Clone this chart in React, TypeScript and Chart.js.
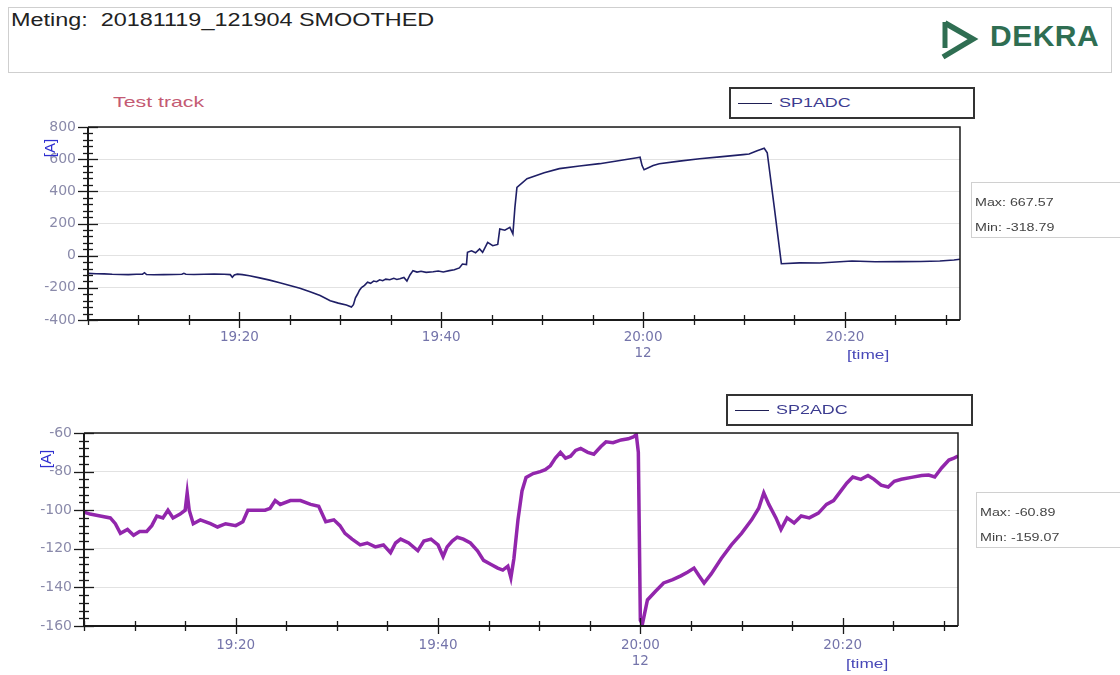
import React, { useEffect, useRef } from "react";
import { Chart, registerables } from "chart.js";

Chart.register(...registerables);

// ---- data (time in minutes after 19:00) ----
const xTickValues = [80, 100, 120, 140];
const xTickLabels = ["19:20", "19:40", "20:00", "20:20"];
const xSubLabel = "12";

const sp1Times = [
  65.0, 65.8, 66.6, 67.4, 68.2, 69.0, 69.8, 70.4, 70.6, 70.8, 71.5, 72.5, 73.5, 74.3, 74.5, 74.7, 75.5, 76.5,
  77.5, 78.5, 79.1, 79.3, 79.5, 79.8, 80.3, 81.0, 82.0, 83.0, 84.0, 85.0, 86.0, 87.0, 88.0, 89.0, 89.8, 90.6,
  91.1, 91.3, 91.5, 91.7, 91.9, 92.1, 92.4, 92.7, 93.0, 93.3, 93.6, 93.9, 94.2, 94.5, 94.9, 95.3, 95.6, 95.9,
  96.3, 96.6, 96.9, 97.2, 97.6, 98.0, 98.5, 99.2, 99.7, 100.2, 100.8, 101.3, 101.8, 102.1, 102.5, 102.6, 103.0,
  103.4, 103.8, 104.1, 104.6, 105.1, 105.6, 105.8, 106.3, 106.8, 107.1, 107.3, 107.5, 108.5, 110.2, 111.7,
  113.7, 115.7, 117.7, 119.4, 119.7, 119.9, 120.1, 121.0, 121.6, 123.6, 125.6, 127.6, 129.9, 130.5, 131.3,
  132.0, 132.3, 133.0, 133.7, 135.5, 137.5, 140.7, 143.0, 145.4, 147.5, 149.4, 150.8, 151.4,
];
const sp1Values = [
  -110, -112, -113, -116, -117, -118, -116, -115, -106, -117, -119, -118, -117, -116, -110, -116, -117, -116,
  -115, -116, -118, -134, -120, -115, -118, -125, -138, -152, -168, -185, -203, -225, -248, -280, -295, -307,
  -318.79, -305, -262, -240, -215, -198, -185, -165, -172, -158, -162, -150, -156, -146, -150, -141, -148, -143,
  -135, -158, -120, -93, -102, -97, -104, -100, -95, -101, -93, -88, -76, -52, -55, 21, 30, 18, 42, 21, 83, 62,
  70, 166, 158, 176, 135, 300, 425, 479, 515, 541, 558, 572, 592, 609, 612, 560, 534, 560, 572, 588, 603, 614,
  628, 632, 652, 667.57, 640, 300, -50, -45, -46, -33, -38, -37, -36, -33, -27, -22,
];

const sp2Times = [
  65.0, 65.6, 66.6, 67.6, 68.1, 68.6, 69.3, 69.9, 70.5, 71.2, 71.7, 72.2, 72.8, 73.3, 73.8, 74.5, 75.0, 75.2,
  75.4, 75.8, 76.5, 77.5, 78.2, 79.0, 80.0, 80.7, 81.2, 81.9, 82.9, 83.4, 83.9, 84.4, 85.4, 86.4, 87.4, 88.2,
  88.9, 89.7, 90.3, 90.8, 91.5, 92.3, 93.0, 93.8, 94.6, 95.3, 95.8, 96.3, 97.1, 98.0, 98.6, 99.3, 100.0, 100.5,
  100.9, 101.4, 101.9, 102.5, 103.2, 103.9, 104.5, 105.2, 105.9, 106.4, 106.9, 107.2, 107.5, 107.9, 108.3,
  108.7, 109.4, 110.1, 110.6, 111.1, 111.6, 112.1, 112.6, 113.1, 113.6, 114.1, 114.8, 115.4, 116.1, 116.6,
  117.3, 118.1, 118.8, 119.3, 119.6, 119.8, 120.0, 120.2, 120.7, 121.5, 122.3, 123.2, 124.0, 124.7, 125.3,
  125.8, 126.3, 127.0, 128.0, 129.0, 130.0, 131.0, 131.7, 132.2, 132.7, 133.4, 133.9, 134.5, 135.2, 135.9,
  136.7, 137.6, 138.4, 139.1, 139.9, 140.4, 141.0, 141.8, 142.5, 143.1, 143.8, 144.5, 145.1, 145.8, 146.8,
  147.8, 148.5, 149.1, 149.8, 150.5, 151.0, 151.4,
];
const sp2Values = [
  -101, -102, -103, -104, -107, -112, -110, -113, -111, -111, -108, -103, -104, -100, -104, -102, -100, -91,
  -100, -107, -105, -107, -108.7, -107, -108, -106, -100, -100, -100, -99, -95, -97, -95, -95, -97, -98,
  -106, -105, -108, -112, -115, -118, -117, -119, -118, -122, -117, -115, -117, -121, -116, -115, -118, -124,
  -119, -116, -114, -115, -117, -121, -126, -128, -130, -131, -129, -135, -125, -105, -90,
  -83, -81, -80, -79, -77, -73, -70, -73, -72, -69, -68, -70, -71, -67, -64.6,
  -65, -63.6, -63, -62, -60.89, -70, -157, -159.07, -146.5, -142, -137.7, -136, -134, -132, -130,
  -134, -137.7, -133, -125, -118, -112, -105, -99, -91, -97, -104, -110, -104, -106.6, -103,
  -104, -101.5, -97, -95, -89.5, -86, -82.8, -84, -82, -84, -87, -88, -85, -84, -83,
  -82, -81.8, -82.8, -78, -74, -73, -72,
];

const FONT = "'Liberation Sans', Arial, Helvetica, sans-serif";
const WIDE = "'DejaVu Sans', 'Liberation Sans', sans-serif";

type Cfg = {
  top: number;
  height: number;
  padTop: number;
  padRight: number;
  yWidth: number;
  xHeight: number;
  xPad: number;
  yMin: number;
  yMax: number;
  yStep: number;
  yMinorDiv: number;
  datasets: any[];
};

function framePlugin(cfg: Cfg) {
  return {
    id: "frameTicks",
    afterDatasetsDraw(chart: any) {
      const { ctx, chartArea: a, scales } = chart;
      const xs = scales.x;
      const ys = scales.y;
      ctx.save();
      ctx.strokeStyle = "#1a1a1a";
      ctx.lineWidth = 1.5;
      ctx.beginPath();
      ctx.moveTo(a.left, a.top);
      ctx.lineTo(a.right, a.top);
      ctx.lineTo(a.right, a.bottom);
      ctx.stroke();
      ctx.lineWidth = 2;
      ctx.beginPath();
      ctx.moveTo(a.left, a.top);
      ctx.lineTo(a.left, a.bottom);
      ctx.lineTo(a.right, a.bottom);
      ctx.stroke();
      ctx.lineWidth = 1.3;
      const minor = cfg.yStep / cfg.yMinorDiv;
      const n = Math.round((cfg.yMax - cfg.yMin) / minor);
      for (let i = 0; i <= n; i++) {
        const v = cfg.yMin + i * minor;
        const y = Math.round(ys.getPixelForValue(v)) + 0.5;
        const len = i % cfg.yMinorDiv === 0 ? 10 : 5;
        ctx.beginPath();
        ctx.moveTo(a.left - len, y);
        ctx.lineTo(a.left + len, y);
        ctx.stroke();
      }
      for (let t = 65; t <= xs.max; t += 5) {
        const x = Math.round(xs.getPixelForValue(t)) + 0.5;
        const len = t % 20 === 0 ? 8 : 5;
        ctx.beginPath();
        ctx.moveTo(x, a.bottom - len);
        ctx.lineTo(x, a.bottom + len);
        ctx.stroke();
      }
      ctx.restore();
    },
  };
}

function TimeChart({ cfg }: { cfg: Cfg }) {
  const ref = useRef<HTMLCanvasElement>(null);
  useEffect(() => {
    const chart = new Chart(ref.current as HTMLCanvasElement, {
      type: "line",
      data: { datasets: cfg.datasets },
      plugins: [framePlugin(cfg)],
      options: {
        animation: false,
        responsive: false,
        devicePixelRatio: 1,
        layout: { padding: { left: 0, right: cfg.padRight, top: cfg.padTop, bottom: 0 } },
        plugins: { legend: { display: false }, tooltip: { enabled: false } },
        elements: { point: { radius: 0 }, line: { tension: 0 } },
        scales: {
          x: {
            type: "linear",
            min: 65,
            max: 151.4,
            afterFit: (s: any) => {
              s.height = cfg.xHeight;
            },
            afterBuildTicks: (s: any) => {
              s.ticks = xTickValues.map((v) => ({ value: v }));
            },
            grid: { display: false, drawTicks: false },
            border: { display: false },
            ticks: {
              autoSkip: false,
              maxRotation: 0,
              padding: cfg.xPad,
              color: "#7474aa",
              font: { family: WIDE, size: 13.5, lineHeight: 1.2 },
              callback: (v: any) => {
                const i = xTickValues.indexOf(Number(v));
                if (i < 0) return "";
                return xTickValues[i] === 120 ? [xTickLabels[i], xSubLabel] : xTickLabels[i];
              },
            },
          },
          y: {
            min: cfg.yMin,
            max: cfg.yMax,
            afterFit: (s: any) => {
              s.width = cfg.yWidth;
            },
            grid: { color: "#e2e2e2", drawTicks: false, lineWidth: 1 },
            border: { display: false },
            ticks: {
              stepSize: cfg.yStep,
              padding: 12,
              color: "#8a8aaa",
              font: { family: WIDE, size: 14 },
            },
          },
        },
      },
    } as any);
    return () => chart.destroy();
  }, []);
  return (
    <canvas
      ref={ref}
      width={1000}
      height={cfg.height}
      style={{ position: "absolute", left: 0, top: cfg.top, width: 1000, height: cfg.height }}
    />
  );
}

const toPts = (ts: number[], vs: number[]) => ts.map((t, i) => ({ x: t, y: vs[i] }));

const topCfg: Cfg = {
  top: 80,
  height: 300,
  padTop: 47,
  padRight: 40,
  yWidth: 88,
  xHeight: 60,
  xPad: 9,
  yMin: -400,
  yMax: 800,
  yStep: 200,
  yMinorDiv: 5,
  datasets: [
    {
      label: "SP1ADC",
      data: toPts(sp1Times, sp1Values),
      borderColor: "#1f1f66",
      borderWidth: 1.6,
      pointRadius: 0,
    },
  ],
};

const botCfg: Cfg = {
  top: 390,
  height: 285,
  padTop: 43,
  padRight: 42,
  yWidth: 84,
  xHeight: 49,
  xPad: 11,
  yMin: -160,
  yMax: -60,
  yStep: 20,
  yMinorDiv: 5,
  datasets: [
    {
      label: "SP2ADC",
      data: toPts(sp2Times, sp2Values),
      borderColor: "#9226ac",
      borderWidth: 3.5,
      pointRadius: 0,
    },
    {
      label: "SP2ADC line",
      data: toPts(sp2Times, sp2Values),
      borderColor: "#2a2238",
      borderWidth: 1,
      pointRadius: 0,
    },
  ],
};

const abs = (l: number, t: number, extra: any = {}) => ({ position: "absolute" as const, left: l, top: t, ...extra });
const stretch = (k: number) => ({ transform: `scaleX(${k})`, transformOrigin: "left top", whiteSpace: "pre" });

function Legend({ l, t, w, h, label }: { l: number; t: number; w: number; h: number; label: string }) {
  return (
    <div style={abs(l, t, { width: w, height: h, border: "2px solid #333", boxSizing: "border-box" })}>
      <div style={abs(7, h / 2 - 2, { width: 34, height: 0, borderTop: "1px solid #1f1f55" })} />
      <div
        style={abs(48, h / 2 - 11, {
          fontFamily: FONT,
          fontSize: 13,
          color: "#3c3c90",
          lineHeight: "18px",
          ...stretch(1.38),
        })}
      >
        {label}
      </div>
    </div>
  );
}

function MinMax({ l, t, max, min }: { l: number; t: number; max: string; min: string }) {
  return (
    <div
      style={abs(l, t, {
        width: 160,
        height: 56,
        border: "1px solid #d0d0d0",
        boxSizing: "border-box",
        fontFamily: FONT,
        fontSize: 10.5,
        color: "#444",
      })}
    >
      <div style={abs(3, 13, stretch(1.36))}>{max}</div>
      <div style={abs(3, 38, stretch(1.36))}>{min}</div>
    </div>
  );
}

function AxisUnit({ l, t }: { l: number; t: number }) {
  return (
    <div
      style={abs(l, t, {
        fontFamily: FONT,
        fontSize: 15,
        color: "#3030d0",
        transform: "rotate(-90deg)",
        transformOrigin: "center",
        width: 26,
        textAlign: "center",
        lineHeight: "16px",
      })}
    >
      [A]
    </div>
  );
}

export default function App() {
  return (
    <div style={abs(0, 0, { width: 1120, height: 675, background: "#fff", overflow: "hidden" })}>
      {/* header */}
      <div style={abs(8, 7, { width: 1104, height: 66, border: "1px solid #cfcfcf", boxSizing: "border-box" })} />
      <div style={abs(11, 10, { fontFamily: FONT, fontSize: 18, color: "#222", ...stretch(1.3) })}>
        {"Meting:  20181119_121904 SMOOTHED"}
      </div>
      <svg style={abs(936, 18, {})} width={44} height={42}>
        <polyline points="9,5 37,21 7,39" fill="none" stroke="#2f6e52" strokeWidth={5.5} strokeLinejoin="miter" />
        <line x1={9} y1={4} x2={9} y2={30} stroke="#2f6e52" strokeWidth={5} />
      </svg>
      <div
        style={abs(990, 18, {
          fontFamily: FONT,
          fontSize: 30,
          fontWeight: "bold",
          color: "#2f6e52",
          letterSpacing: 0.5,
          lineHeight: "36px",
        })}
      >
        DEKRA
      </div>

      {/* top chart */}
      <div style={abs(113, 93, { fontFamily: FONT, fontSize: 15, color: "#c45a72", ...stretch(1.42) })}>
        Test track
      </div>
      <Legend l={729} t={87} w={246} h={32} label="SP1ADC" />
      <TimeChart cfg={topCfg} />
      <AxisUnit l={37} t={140} />
      <div style={abs(847, 347, { fontFamily: FONT, fontSize: 13.5, color: "#4848b8", ...stretch(1.28) })}>
        [time]
      </div>
      <MinMax l={971} t={182} max="Max: 667.57" min="Min: -318.79" />

      {/* bottom chart */}
      <Legend l={726} t={394} w={247} h={32} label="SP2ADC" />
      <TimeChart cfg={botCfg} />
      <AxisUnit l={33} t={451} />
      <div style={abs(846, 656, { fontFamily: FONT, fontSize: 13.5, color: "#4848b8", ...stretch(1.28) })}>
        [time]
      </div>
      <MinMax l={976} t={492} max="Max: -60.89" min="Min: -159.07" />
    </div>
  );
}
